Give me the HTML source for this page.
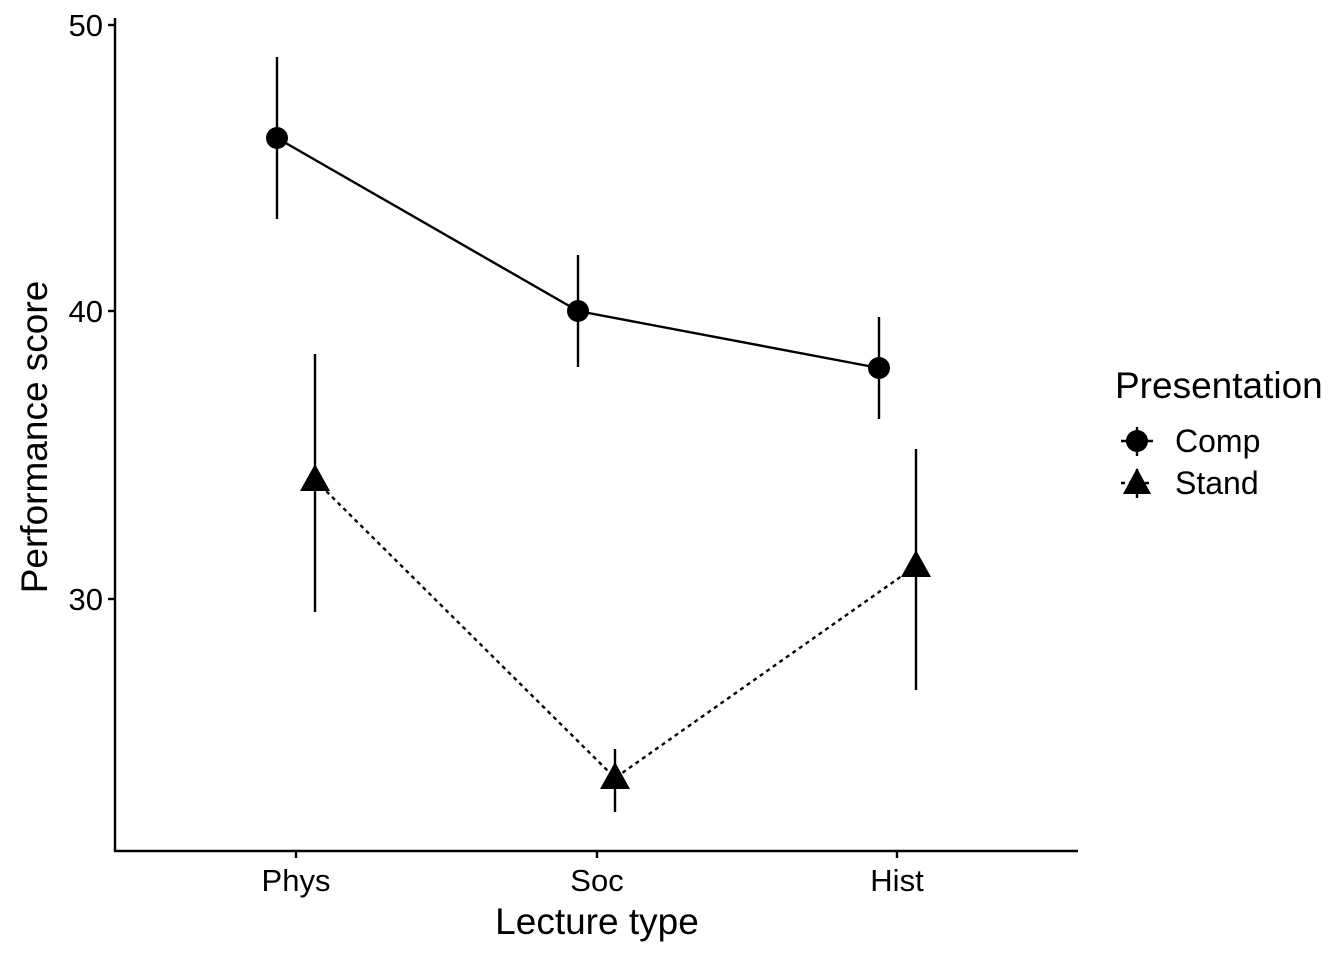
<!DOCTYPE html>
<html><head><meta charset="utf-8"><style>
html,body{margin:0;padding:0;background:#fff;}
svg{display:block;font-family:"Liberation Sans",Arial,sans-serif;}
</style></head><body>
<svg width="1344" height="960" viewBox="0 0 1344 960" xmlns="http://www.w3.org/2000/svg">
<g stroke="#000" stroke-width="2.4" fill="none">
<line x1="115" y1="18" x2="115" y2="852"/>
<line x1="114" y1="851" x2="1078" y2="851"/>
<line x1="108" y1="25" x2="115" y2="25"/>
<line x1="108" y1="311" x2="115" y2="311"/>
<line x1="108" y1="599" x2="115" y2="599"/>
<line x1="296" y1="851" x2="296" y2="858"/>
<line x1="597" y1="851" x2="597" y2="858"/>
<line x1="897" y1="851" x2="897" y2="858"/>
<polyline points="277,138 578,311 879,368"/>
<line x1="277" y1="57" x2="277" y2="219"/>
<line x1="578" y1="255" x2="578" y2="367"/>
<line x1="879" y1="317" x2="879" y2="419"/>
<polyline points="315,480 615,778 916,566" stroke-dasharray="4,4"/>
<line x1="315" y1="354" x2="315" y2="612"/>
<line x1="615" y1="749" x2="615" y2="812"/>
<line x1="916" y1="449" x2="916" y2="690"/>
<line x1="1137" y1="427" x2="1137" y2="456"/>
<line x1="1121" y1="441" x2="1153" y2="441"/>
<line x1="1137" y1="469" x2="1137" y2="498"/>
<line x1="1121" y1="483" x2="1153" y2="483" stroke-dasharray="4,4"/>
</g>
<g fill="#000">
<circle cx="277" cy="138" r="11"/>
<circle cx="578" cy="311" r="11"/>
<circle cx="879" cy="368" r="11"/>
<polygon points="315,464 330,491 300,491"/>
<polygon points="615,762 630,789 600,789"/>
<polygon points="916,550 931,577 901,577"/>
<circle cx="1137" cy="441" r="11"/>
<polygon points="1137,468 1151,494 1123,494"/>
</g>
<g font-size="31" fill="#000">
<text x="103" y="36" text-anchor="end">50</text>
<text x="103" y="322" text-anchor="end">40</text>
<text x="103" y="610" text-anchor="end">30</text>
<text x="296" y="891" text-anchor="middle">Phys</text>
<text x="597" y="891" text-anchor="middle">Soc</text>
<text x="897" y="891" text-anchor="middle">Hist</text>
</g>
<g font-size="32" fill="#000">
<text x="1175" y="452">Comp</text>
<text x="1175" y="494">Stand</text>
</g>
<g font-size="37" fill="#000">
<text x="597" y="934" text-anchor="middle">Lecture type</text>
<text transform="translate(47,437) rotate(-90)" text-anchor="middle">Performance score</text>
<text x="1115" y="398">Presentation</text>
</g>
</svg>
</body></html>
